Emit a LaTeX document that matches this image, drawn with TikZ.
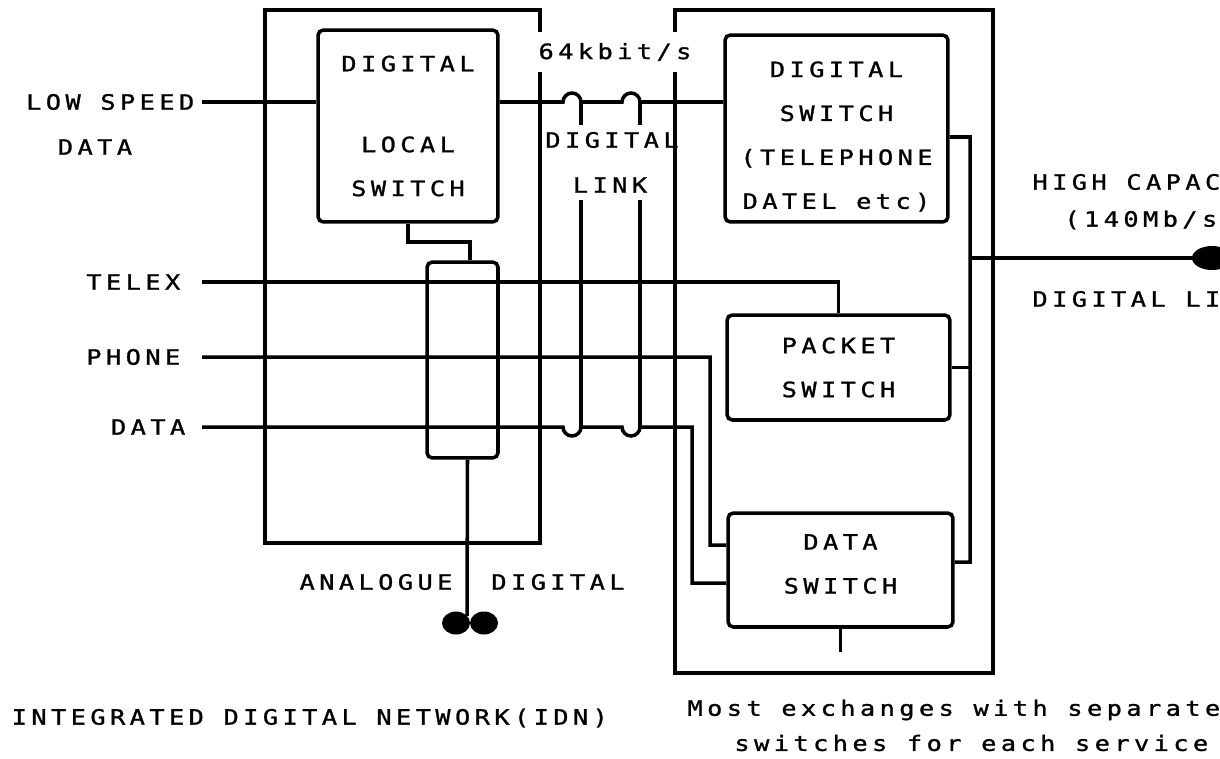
\documentclass[tikz,border=0pt]{standalone}
\usepackage{fontspec}
\newfontfamily\plotterfont[LetterSpace=21,FakeStretch=1.2,FakeBold=1.2]{DejaVu Sans Mono}

\begin{document}
\begin{tikzpicture}
  [x=0.02cm,y=-0.02cm,line width=2pt,
   every node/.style={font=\plotterfont\fontsize{12}{25}\selectfont,inner sep=0pt},
   frame/.style={draw},
   switchbox/.style={draw,rounded corners=3pt,align=center},
   sig/.style={anchor=east,inner xsep=0.4cm},
   txt/.style={anchor=west},
   rtxt/.style={anchor=east}]

  \useasboundingbox (0,0) rectangle (1220,758);
  \clip (0,0) rectangle (1220,758);

  % Outer frames
  \node[frame,minimum width=5.5cm,minimum height=10.66cm] (idn) at (402.5,276.5) {};
  \node[frame,minimum width=6.36cm,minimum height=13.26cm] (sep) at (834,341.5) {};

  % Switches
  \node[switchbox,minimum width=3.6cm,minimum height=3.84cm] (local) at (408,126) {DIGITAL\\[21pt]LOCAL\\SWITCH};
  \node[switchbox,minimum width=4.46cm,minimum height=3.74cm] (digsw) at (836.5,128.5) {\rule{0pt}{18pt}DIGITAL\\SWITCH\\(TELEPHONE\\DATEL etc)};
  \node[switchbox,minimum width=4.46cm,minimum height=2.1cm] (packet) at (838.5,367.5) {PACKET\\SWITCH};
  \node[switchbox,minimum width=4.5cm,minimum height=2.28cm] (datasw) at (840.5,570) {DATA\\SWITCH\rule[-7pt]{0pt}{7pt}};
  \node[switchbox,minimum width=1.42cm,minimum height=3.92cm] (conv) at (462.5,360) {};

  % Inputs on the left
  \node[sig,inner xsep=0.12cm] (lsd) at (202,102) {LOW SPEED};
  \node (lsd2) at (95,147) {DATA};
  \node[sig] (telex) at (202,282) {TELEX};
  \node[sig] (phone) at (202,357) {PHONE};
  \node[sig,inner xsep=0.3cm] (data) at (202,427) {DATA};

  % Digital link
  \coordinate (ta) at (581,102);
  \coordinate (tb) at (640,102);
  \coordinate (ba) at (581,427);
  \coordinate (bb) at (640,427);
  \coordinate (bus) at (970,258);
  \coordinate (hc) at (1212,258);
  \coordinate (plug) at (467,616);

  \draw (lsd.east) -- (lsd.east -| local.west);
  \draw (lsd.east -| local.east) -- ([xshift=-0.36cm]ta) arc[start angle=180,end angle=0,radius=0.18cm]
    -- ([xshift=-0.36cm]tb) arc[start angle=180,end angle=0,radius=0.18cm] -- (lsd.east -| digsw.west);
  \draw (ta) -- ++(0,23);
  \draw (tb) -- ++(0,23);
  \draw (ba) -- ++(0,-227);
  \draw (bb) -- ++(0,-227);

  \draw (telex.east) -| (packet.north);
  \draw (phone.east) -| (710,545) -- ([yshift=0.5cm]datasw.west);
  \draw (data.east) -- ([xshift=-0.36cm]ba) arc[start angle=180,end angle=360,radius=0.18cm]
    -- ([xshift=-0.36cm]bb) arc[start angle=180,end angle=360,radius=0.18cm]
    -- (692,427) |- ([yshift=-0.26cm]datasw.west);

  % Local switch to converter and the analogue plug
  \draw (local.south) -- ++(0,18) -| ([xshift=0.15cm]conv.north);
  \draw ([xshift=0.1cm]conv.south) -- (plug);
  \fill (456,623) ellipse [x radius=0.28cm,y radius=0.23cm];
  \fill (484,623) ellipse [x radius=0.28cm,y radius=0.23cm];

  % Switches to the high capacity link
  \draw ([yshift=-0.17cm]digsw.east) -| (970,562) -- ([yshift=0.16cm]datasw.east);
  \draw (packet.east) -- (packet.east -| bus);
  \draw (bus) -- (hc);
  \fill (hc) ellipse [x radius=0.4cm,y radius=0.24cm];
  \draw (datasw.south) -- ++(0,23);

  % Labels
  \node[fill=white,inner xsep=0.1cm,inner ysep=0.22cm] (rate) at (615,52) {64kbit/s};
  \node (dl1) at (612,140) {DIGITAL};
  \node (dl2) at (610,185) {LINK};
  \node (ana) at (376,582) {ANALOGUE};
  \node (dig) at (558,582) {DIGITAL};
  \node[rtxt] (hc1) at (1222,182) {HIGH CAPAC};
  \node[rtxt] (hc2) at (1219,220) {(140Mb/s};
  \node[rtxt] (hc3) at (1222,299) {DIGITAL LI};
  \node[txt] (cap1) at (10,718) {INTEGRATED DIGITAL NETWORK(IDN)};
  \node[rtxt] (cap2) at (1222,710) {Most exchanges with separate};
  \node[rtxt] (cap3) at (1210,743) {switches for each service};

\end{tikzpicture}
\end{document}
